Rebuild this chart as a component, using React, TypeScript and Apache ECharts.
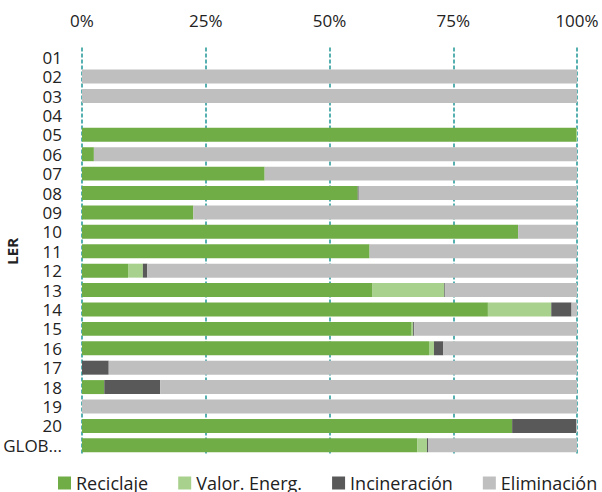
import React, { useEffect, useRef } from "react";
import * as echarts from "echarts";

const categories = ["01", "02", "03", "04", "05", "06", "07", "08", "09", "10", "11", "12", "13", "14", "15", "16", "17", "18", "19", "20", "GLOB..."];
const reciclaje = [0, 0, 0, 0, 99.8, 2.4, 36.9, 55.7, 22.5, 88.1, 58.1, 9.3, 58.7, 82.0, 66.6, 70.1, 0, 4.5, 0, 86.9, 67.7];
const valorEnerg = [0, 0, 0, 0, 0.2, 0, 0, 0, 0, 0, 0, 3.0, 14.5, 12.8, 0.3, 1.0, 0, 0, 0, 0, 2.0];
const incineracion = [0, 0, 0, 0, 0, 0, 0, 0.2, 0, 0, 0, 0.9, 0.2, 4.1, 0.2, 1.9, 5.4, 11.3, 0, 12.9, 0.2];
const eliminacion = [0, 100, 100, 0, 0, 97.6, 63.1, 44.1, 77.5, 11.9, 41.9, 86.8, 26.6, 1.1, 32.9, 27.0, 94.6, 84.2, 100, 0.2, 30.1];
const seriesNames = ["Reciclaje", "Valor. Energ.", "Incineración", "Eliminación"];
const seriesColors = ["#70ad47", "#a9d18e", "#595959", "#bfbfbf"];
const xTicks = [0, 25, 50, 75, 100];

const FONT = "'Open Sans', sans-serif";

export default function App() {
  const ref = useRef<HTMLDivElement>(null);
  useEffect(() => {
    if (!ref.current) return;
    const chart = echarts.init(ref.current, null, { renderer: "svg" });
    const seriesData = [reciclaje, valorEnerg, incineracion, eliminacion];
    chart.setOption({
      animation: false,
      textStyle: { fontFamily: FONT },
      grid: { left: 82, right: 25, top: 47.5, height: 407.5, outerBoundsMode: "none", containLabel: false },
      legend: {
        data: seriesNames,
        left: 53,
        top: 469,
        width: 900,
        itemWidth: 13,
        itemHeight: 13,
        itemGap: 30,
        icon: "rect",
        textStyle: { fontSize: 18, color: "#222", fontFamily: FONT },
      },
      xAxis: {
        type: "value",
        position: "top",
        min: xTicks[0],
        max: xTicks[xTicks.length - 1],
        interval: xTicks[1] - xTicks[0],
        axisLine: { show: false },
        axisTick: { show: false },
        axisLabel: { formatter: "{value}%", fontSize: 17, color: "#222", margin: 19, fontFamily: FONT },
        splitLine: { show: true, lineStyle: { color: "#1f9696", type: [4, 2], width: 1.5 } },
      },
      yAxis: {
        type: "category",
        inverse: true,
        data: categories,
        axisLine: { show: false },
        axisTick: { show: false },
        axisLabel: { interval: 0, fontSize: 17, lineHeight: 19, color: "#222", margin: 20, fontFamily: FONT },
        name: "LER",
        nameLocation: "middle",
        nameRotate: 90,
        nameGap: 63,
        nameMoveOverlap: false,
        nameTextStyle: { fontSize: 15, fontWeight: "bold", color: "#222", fontFamily: FONT },
      },
      series: seriesNames.map((name, i) => ({
        name,
        type: "bar",
        stack: "total",
        barCategoryGap: "28%",
        itemStyle: { color: seriesColors[i] },
        data: seriesData[i],
      })),
    });
    return () => chart.dispose();
  }, []);
  return <div ref={ref} style={{ position: "fixed", left: 0, top: 0, width: 602, height: 492, background: "#fff" }} />;
}
